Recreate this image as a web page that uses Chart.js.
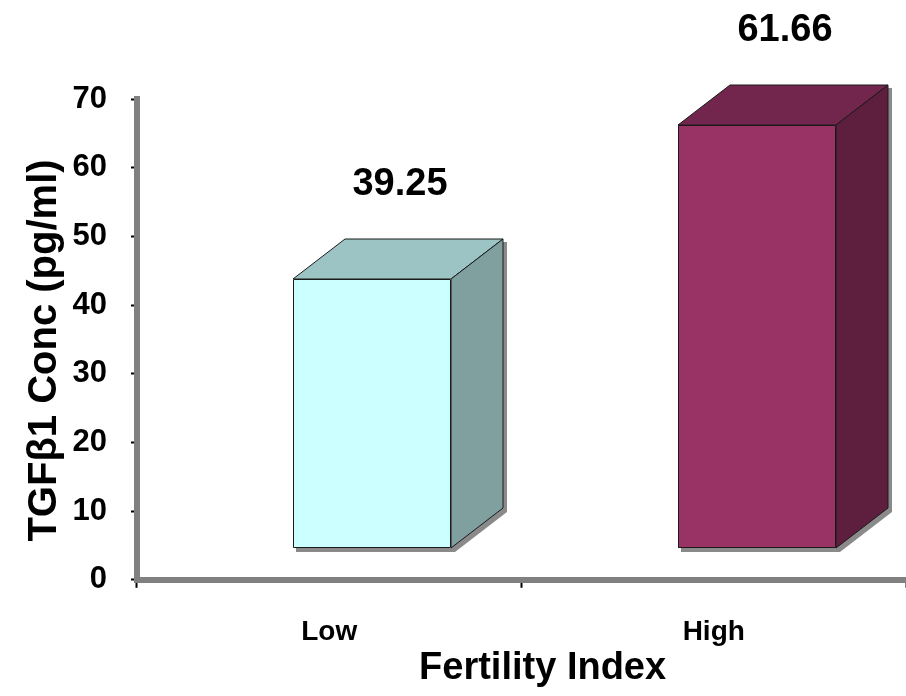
<!DOCTYPE html>
<html>
<head>
<meta charset="utf-8">
<script src="https://cdn.jsdelivr.net/npm/chart.js@4.4.0/dist/chart.umd.min.js"></script>
<style>
  html, body { margin: 0; padding: 0; background: #fff; }
  #wrap { width: 906px; height: 696px; }
</style>
</head>
<body>
<div id="wrap"><canvas id="chart" width="906" height="696"></canvas></div>
<script>
const categories = ['Low', 'High'];
const tgfValues = [39.25, 61.66];
const valueLabels = ['39.25', '61.66'];
const yTicks = [0, 10, 20, 30, 40, 50, 60, 70];

// face colours per bar: front, top, side
const barColors = [
    { front: '#ccffff', top: '#9cc4c4', side: '#80a0a0' },
    { front: '#993366', top: '#73264d', side: '#5e1f3e' }
];

const FONT = 'Arial, "Liberation Sans", sans-serif';

// 3D look: front face is pushed right/up from the floor, depth goes back
const shiftX = 43, shiftY = 31;
const depthX = 52, depthY = 40;

const bar3d = {
    id: 'bar3d',
    afterDatasetsDraw(chart) {
        const ctx = chart.ctx;
        const meta = chart.getDatasetMeta(0);
        meta.data.forEach((bar, i) => {
            const c = barColors[i];
            const l = Math.round(bar.x - bar.width / 2 + shiftX);
            const r = Math.round(bar.x + bar.width / 2 + shiftX);
            const t = Math.round(bar.y - shiftY);
            const b = Math.round(bar.base - shiftY);

            ctx.save();
            // drop shadow
            ctx.fillStyle = '#8a8a8a';
            ctx.beginPath();
            ctx.moveTo(l + 3, t + 3);
            ctx.lineTo(l + 3 + depthX, t + 3 - depthY);
            ctx.lineTo(r + 4 + depthX, t + 3 - depthY);
            ctx.lineTo(r + 4 + depthX, b + 4 - depthY);
            ctx.lineTo(r + 4, b + 4);
            ctx.lineTo(l + 3, b + 4);
            ctx.closePath();
            ctx.fill();

            ctx.strokeStyle = '#1a1a1a';
            ctx.lineWidth = 1;
            ctx.lineJoin = 'round';

            // top face
            ctx.fillStyle = c.top;
            ctx.beginPath();
            ctx.moveTo(l, t);
            ctx.lineTo(l + depthX, t - depthY);
            ctx.lineTo(r + depthX, t - depthY);
            ctx.lineTo(r, t);
            ctx.closePath();
            ctx.fill();
            ctx.stroke();

            // side face
            ctx.fillStyle = c.side;
            ctx.beginPath();
            ctx.moveTo(r, t);
            ctx.lineTo(r + depthX, t - depthY);
            ctx.lineTo(r + depthX, b - depthY);
            ctx.lineTo(r, b);
            ctx.closePath();
            ctx.fill();
            ctx.stroke();

            // front face
            ctx.fillStyle = c.front;
            ctx.fillRect(l, t, r - l, b - t);
            ctx.strokeRect(l + 0.5, t + 0.5, r - l - 1, b - t - 1);

            // value label above the box
            ctx.fillStyle = '#000';
            ctx.font = 'bold 38px ' + FONT;
            ctx.textAlign = 'center';
            ctx.textBaseline = 'alphabetic';
            ctx.fillText(valueLabels[i], (l + r + depthX) / 2 + 2, t - depthY - 44);
            ctx.restore();
        });
    }
};

new Chart(document.getElementById('chart'), {
    type: 'bar',
    data: {
        labels: categories,
        datasets: [{
            data: tgfValues,
            backgroundColor: 'rgba(0,0,0,0)',
            borderWidth: 0,
            barPercentage: 0.411,
            categoryPercentage: 1
        }]
    },
    options: {
        responsive: false,
        animation: false,
        events: [],
        layout: { padding: { left: 12, right: 0, top: 99, bottom: 0 } },
        plugins: {
            legend: { display: false },
            tooltip: { enabled: false }
        },
        scales: {
            x: {
                grid: {
                    offset: true,
                    drawOnChartArea: false,
                    tickLength: 8,
                    tickColor: '#000',
                    tickWidth: 2
                },
                border: { color: '#808080', width: 6 },
                ticks: {
                    color: '#000',
                    padding: 28,
                    font: { family: FONT, size: 28, weight: 'bold' }
                },
                title: {
                    display: true,
                    text: '\u00a0\u00a0\u00a0\u00a0Fertility Index',
                    color: '#000',
                    padding: { top: -32, bottom: 5 },
                    font: { family: FONT, size: 38, weight: 'bold' }
                }
            },
            y: {
                min: 0,
                max: 70,
                afterBuildTicks(axis) {
                    axis.ticks = yTicks.map(v => ({ value: v }));
                },
                grid: {
                    drawOnChartArea: false,
                    tickLength: 6,
                    tickColor: '#000',
                    tickWidth: 2
                },
                border: { color: '#808080', width: 6 },
                ticks: {
                    color: '#000',
                    padding: 24,
                    font: { family: FONT, size: 31, weight: 'bold' }
                },
                title: {
                    display: true,
                    text: 'TGFβ1 Conc (pg/ml)\u00a0\u00a0',
                    color: '#000',
                    padding: { top: 13, bottom: -16.5 },
                    font: { family: FONT, size: 40, weight: 'bold', lineHeight: 1 }
                }
            }
        }
    },
    plugins: [bar3d]
});
</script>
</body>
</html>
